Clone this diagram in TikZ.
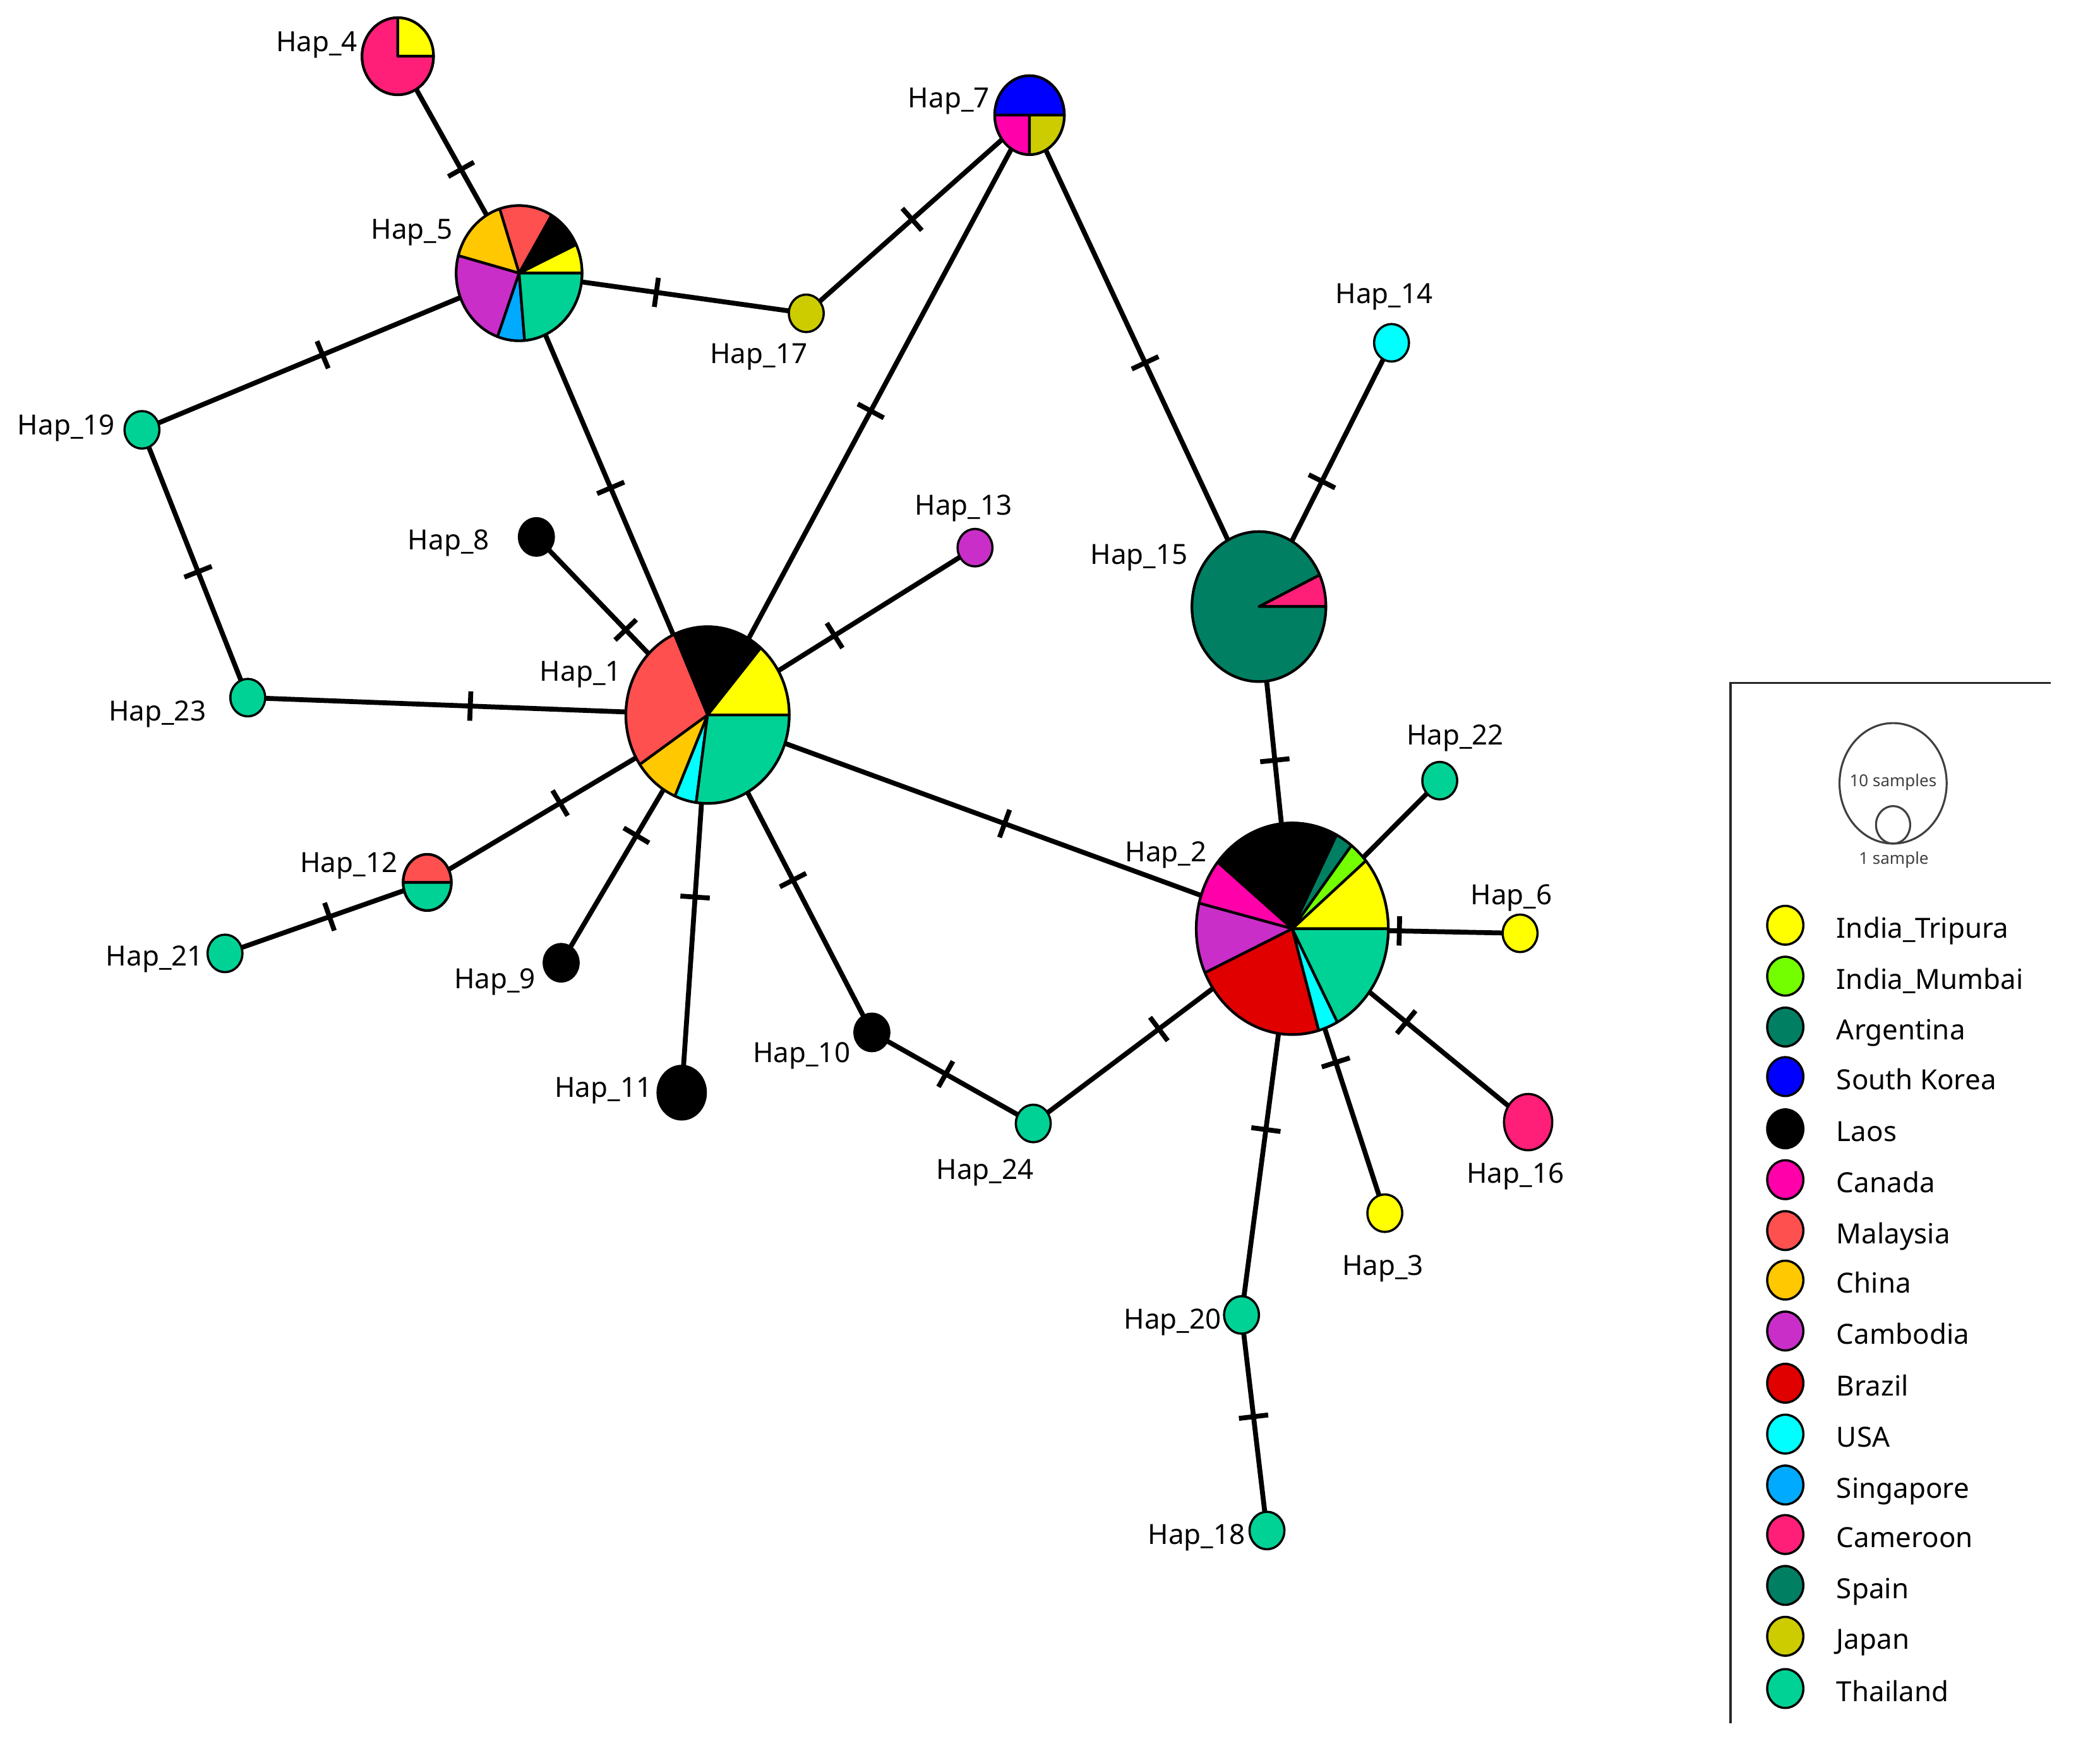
\documentclass[tikz,border=0pt]{standalone}
\usepackage{fontspec}
\setmainfont{Noto Sans}
\usetikzlibrary{shapes.geometric,decorations.markings}
\pgfdeclarelayer{edges}
\pgfsetlayers{edges,main}
\definecolor{cTripura}{HTML}{FFFF00}
\definecolor{cMumbai}{HTML}{73FF00}
\definecolor{cArgentina}{HTML}{007F63}
\definecolor{cKorea}{HTML}{0000FF}
\definecolor{cLaos}{HTML}{000000}
\definecolor{cCanada}{HTML}{FF00AA}
\definecolor{cMalaysia}{HTML}{FF5050}
\definecolor{cChina}{HTML}{FFC800}
\definecolor{cCambodia}{HTML}{C92EC9}
\definecolor{cBrazil}{HTML}{E00000}
\definecolor{cUSA}{HTML}{00FFFF}
\definecolor{cSingapore}{HTML}{00AAFF}
\definecolor{cCameroon}{HTML}{FF1F78}
\definecolor{cSpain}{HTML}{007F63}
\definecolor{cJapan}{HTML}{CCCC00}
\definecolor{cThailand}{HTML}{00D295}
\newcommand{\unitlen}{0.021205cm}
\tikzset{
  hap/.style={ellipse,draw=black,line width=1pt,inner sep=0pt,outer sep=0pt},
  slicepart/.style={draw=black,line width=1.2pt,line join=round},
  lab/.style={font=\fontsize{12.5pt}{15pt}\selectfont,inner sep=0pt,text=black,text height=9.3pt,text depth=2.7pt,yshift=-1.2pt},
  legtext/.style={lab,anchor=west,yshift=-1.3pt},
  small/.style={font=\fontsize{7.4pt}{9pt}\selectfont,inner sep=0pt,text=black!75},
  link/.style={line width=2.2pt,draw=black},
  ticked/.style={link,postaction={decorate},decoration={markings,mark=at position #1 with {\draw[line width=2.2pt] (0,-0.233cm) -- (0,0.233cm);}}}
}
% name, x, y, rx, ry, colour
\newcommand{\hapnode}[6]{%
  \node[hap,fill=#6,minimum width=#4*2*\unitlen,minimum height=#5*2*\unitlen] (#1) at (#2,#3) {};}
% name, rx, ry, list of start/end/colour
\newcommand{\pieparts}[4]{%
  \pgfmathsetlengthmacro\RX{#2*\unitlen}%
  \pgfmathsetlengthmacro\RY{#3*\unitlen}%
  \foreach \sa/\sb/\sc in {#4}{%
    \draw[slicepart,fill=\sc] (#1.center) -- ++(\sa:{\RX} and {\RY})
      arc[start angle=\sa,end angle=\sb,x radius=\RX,y radius=\RY] -- cycle;}}
\begin{document}
\begin{tikzpicture}[x=0.021205cm,y=-0.021205cm]
\useasboundingbox (0,0) rectangle (1568,1303.5);
% haplotype nodes
\hapnode{hFour}{297}{42}{26.7}{28.8}{cCameroon}
\hapnode{hSeven}{768.7}{86}{26}{29.5}{white}
\hapnode{hFive}{387.6}{204}{47}{50.5}{white}
\hapnode{hOne}{528.3}{534}{61}{66}{white}
\hapnode{hTwo}{964.9}{693.6}{71.7}{79}{white}
\hapnode{hFifteen}{940}{453}{50}{56}{cArgentina}
\hapnode{hTwelve}{319}{659}{18}{21}{white}
\hapnode{hFourteen}{1039}{256}{13}{14}{cUSA}
\hapnode{hThirteen}{728}{409}{13}{14}{cCambodia}
\hapnode{hEight}{400.5}{401}{13}{14}{cLaos}
\hapnode{hNine}{419}{719}{13}{14}{cLaos}
\hapnode{hTen}{651}{771}{13}{14}{cLaos}
\hapnode{hEleven}{509}{816}{18}{20}{cLaos}
\hapnode{hSeventeen}{602}{234}{13}{14}{cJapan}
\hapnode{hNineteen}{106}{321}{13}{14}{cThailand}
\hapnode{hTwentyThree}{185}{521}{13}{14}{cThailand}
\hapnode{hTwentyOne}{168}{712}{13}{14}{cThailand}
\hapnode{hTwentyFour}{771.5}{839}{13}{14}{cThailand}
\hapnode{hTwentyTwo}{1075}{583}{13}{14}{cThailand}
\hapnode{hSix}{1135}{697}{13}{14}{cTripura}
\hapnode{hThree}{1034}{906}{13}{14}{cTripura}
\hapnode{hSixteen}{1141}{838}{18}{21}{cCameroon}
\hapnode{hTwenty}{927}{982}{13}{14}{cThailand}
\hapnode{hEighteen}{946}{1143}{13}{14}{cThailand}
% pie slices
\pieparts{hFour}{26.7}{28.8}{0/90/cTripura,90/360/cCameroon}
\pieparts{hSeven}{26}{29.5}{0/180/cKorea,180/270/cCanada,270/360/cJapan}
\pieparts{hFive}{47}{50.5}{0/25/cTripura,25/59/cLaos,59/108/cMalaysia,108/165/cChina,165/250/cCambodia,250/275/cSingapore,275/360/cThailand}
\pieparts{hOne}{61}{66}{0/49.5/cTripura,49.5/114/cLaos,114/214/cMalaysia,214/246.5/cChina,246.5/262/cUSA,262/360/cThailand}
\pieparts{hTwo}{71.7}{79}{0/40/cTripura,40/52/cMumbai,52/62.6/cArgentina,62.6/141/cLaos,141/166/cCanada,166/204.6/cCambodia,204.6/286/cBrazil,286/298/cUSA,298/360/cThailand}
\pieparts{hFifteen}{50}{56}{0/25/cCameroon,25/360/cArgentina}
\pieparts{hTwelve}{18}{21}{0/180/cMalaysia,180/360/cThailand}
% connectors
\begin{pgfonlayer}{edges}
\draw[ticked=.522] (hFour.center) -- (hFive.center);
\draw[ticked=.478] (hFive.center) -- (hSeventeen.center);
\draw[ticked=.479] (hNineteen.center) -- (hFive.center);
\draw[ticked=.486] (hFive.center) -- (hOne.center);
\draw[ticked=.474] (hSeventeen.center) -- (hSeven.center);
\draw[ticked=.507] (hOne.center) -- (hSeven.center);
\draw[ticked=.504] (hSeven.center) -- (hFifteen.center);
\draw[ticked=.475] (hFifteen.center) -- (hFourteen.center);
\draw[ticked=.477] (hFifteen.center) -- (hTwo.center);
\draw[ticked=.530] (hNineteen.center) -- (hTwentyThree.center);
\draw[ticked=.484] (hTwentyThree.center) -- (hOne.center);
\draw[ticked=.523] (hEight.center) -- (hOne.center);
\draw[ticked=.475] (hOne.center) -- (hThirteen.center);
\draw[ticked=.474] (hTwelve.center) -- (hOne.center);
\draw[ticked=.517] (hTwentyOne.center) -- (hTwelve.center);
\draw[ticked=.514] (hNine.center) -- (hOne.center);
\draw[ticked=.518] (hEleven.center) -- (hOne.center);
\draw[ticked=.520] (hOne.center) -- (hTen.center);
\draw[ticked=.458] (hTen.center) -- (hTwentyFour.center);
\draw[ticked=.485] (hTwentyFour.center) -- (hTwo.center);
\draw[ticked=.508] (hOne.center) -- (hTwo.center);
\draw[link] (hTwo.center) -- (hTwentyTwo.center);
\draw[ticked=.470] (hTwo.center) -- (hSix.center);
\draw[ticked=.483] (hTwo.center) -- (hSixteen.center);
\draw[ticked=.470] (hTwo.center) -- (hThree.center);
\draw[ticked=.520] (hTwo.center) -- (hTwenty.center);
\draw[ticked=.472] (hTwenty.center) -- (hEighteen.center);
\end{pgfonlayer}
% haplotype labels
\node[lab] (lFour) at (236.5,31) {Hap\_4};
\node[lab] (lSeven) at (708.5,73) {Hap\_7};
\node[lab] (lFive) at (307.5,171) {Hap\_5};
\node[lab] (lSeventeen) at (566.5,264) {Hap\_17};
\node[lab] (lFourteen) at (1033.5,219) {Hap\_14};
\node[lab] (lNineteen) at (49.5,317) {Hap\_19};
\node[lab] (lEight) at (335,403) {Hap\_8};
\node[lab] (lThirteen) at (719.5,377) {Hap\_13};
\node[lab] (lFifteen) at (850.5,414) {Hap\_15};
\node[lab] (lOne) at (433.5,501) {Hap\_1};
\node[lab] (lTwentyThree) at (117.5,531) {Hap\_23};
\node[lab] (lTwentyTwo) at (1086.5,549) {Hap\_22};
\node[lab] (lTwelve) at (260.5,644) {Hap\_12};
\node[lab] (lTwo) at (870.5,636) {Hap\_2};
\node[lab] (lSix) at (1128.5,668) {Hap\_6};
\node[lab] (lTwentyOne) at (115.5,714) {Hap\_21};
\node[lab] (lNine) at (369.5,731) {Hap\_9};
\node[lab] (lTen) at (598.5,786) {Hap\_10};
\node[lab] (lEleven) at (450.5,812) {Hap\_11};
\node[lab] (lTwentyFour) at (735.5,873) {Hap\_24};
\node[lab] (lSixteen) at (1131.5,876) {Hap\_16};
\node[lab] (lThree) at (1032.5,945) {Hap\_3};
\node[lab] (lTwenty) at (875.5,985) {Hap\_20};
\node[lab] (lEighteen) at (893.5,1146) {Hap\_18};
% legend frame
\coordinate (frameA) at (1531,510);
\coordinate (frameB) at (1292,510);
\coordinate (frameC) at (1292,1287);
\draw[line width=1.1pt,black!85] (frameA) -- (frameB) -- (frameC);
% sample size key
\node[ellipse,draw=black!75,line width=.9pt,inner sep=0pt,minimum width=80*\unitlen,minimum height=90*\unitlen] (keyLarge) at (1413.5,585) {};
\node[ellipse,draw=black!75,line width=.9pt,inner sep=0pt,minimum width=25.5*\unitlen,minimum height=28*\unitlen] (keySmall) at (1413.5,616) {};
\node[small] (keyTen) at (1413.5,584) {10 samples};
\node[small] (keyOne) at (1414,642) {1 sample};
% legend entries
\foreach \ly/\lc/\lt [count=\li] in {
  691/cTripura/India\_Tripura,
  729/cMumbai/India\_Mumbai,
  767/cArgentina/Argentina,
  804/cKorea/South Korea,
  843/cLaos/Laos,
  881/cCanada/Canada,
  919/cMalaysia/Malaysia,
  956/cChina/China,
  994/cCambodia/Cambodia,
  1033/cBrazil/Brazil,
  1071/cUSA/USA,
  1109/cSingapore/Singapore,
  1146/cCameroon/Cameroon,
  1184/cSpain/Spain,
  1222/cJapan/Japan,
  1261/cThailand/Thailand}{
  \node[hap,fill=\lc,minimum width=27*\unitlen,minimum height=29*\unitlen] (keyDot\li) at (1333,\ly) {};
  \node[legtext] (keyText\li) at (1371,\ly) {\lt};
}
\end{tikzpicture}
\end{document}
